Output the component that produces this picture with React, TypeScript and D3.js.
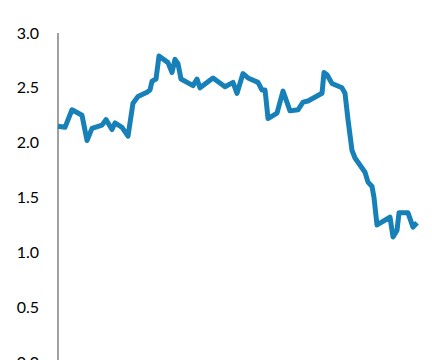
import React from "react";
import * as d3 from "d3";

const days = [0, 7, 14, 24, 29, 34, 44, 48, 54, 57, 64, 70, 75, 80, 89, 92, 94, 98, 101, 110, 114, 117, 120, 123, 135, 139, 142, 155, 167, 175, 179, 185, 190, 200, 204, 207, 208, 210, 219, 225, 232, 240, 245, 250, 264, 266, 269, 274, 284, 287, 290, 294, 297, 307, 310, 314, 316, 319, 332, 335, 339, 341, 350, 355, 359];
const values = [2.15, 2.14, 2.30, 2.25, 2.02, 2.13, 2.16, 2.21, 2.12, 2.18, 2.14, 2.06, 2.36, 2.42, 2.46, 2.48, 2.56, 2.58, 2.79, 2.73, 2.64, 2.76, 2.72, 2.58, 2.52, 2.58, 2.50, 2.59, 2.51, 2.55, 2.45, 2.63, 2.59, 2.55, 2.48, 2.48, 2.40, 2.22, 2.27, 2.47, 2.29, 2.30, 2.37, 2.38, 2.45, 2.64, 2.62, 2.54, 2.50, 2.45, 2.21, 1.93, 1.86, 1.73, 1.64, 1.60, 1.50, 1.25, 1.32, 1.14, 1.20, 1.36, 1.36, 1.23, 1.27];
const yTicks = [0, 0.5, 1.0, 1.5, 2.0, 2.5, 3.0];
const yTickLabels = ["0.0", "0.5", "1.0", "1.5", "2.0", "2.5", "3.0"];

export default function App() {
  const W = 432, H = 360;
  const x = d3.scaleLinear().domain([0, 359]).range([58, 417]);
  const y = d3.scaleLinear().domain([0, 3]).range([362, 33]);
  const data = days.map((d, i) => [d, values[i]] as [number, number]);
  const line = d3.line<[number, number]>().x(d => x(d[0])).y(d => y(d[1]));
  return (
    <svg width={W} height={H} style={{ position: "absolute", left: 0, top: 0, background: "#fff" }}>
      <line x1={58} x2={58} y1={y(3)} y2={H} stroke="#a0a0a0" strokeWidth={2} />
      {yTicks.map((t, i) => (
        <text key={i} x={39} y={y(t)} dy="0.35em" textAnchor="end" fontFamily="Lato, 'Open Sans', sans-serif" fontSize={16} fill="#000">
          {yTickLabels[i]}
        </text>
      ))}
      <path d={line(data) || ""} fill="none" stroke="#1780b8" strokeWidth={5} strokeLinejoin="round" />
    </svg>
  );
}
